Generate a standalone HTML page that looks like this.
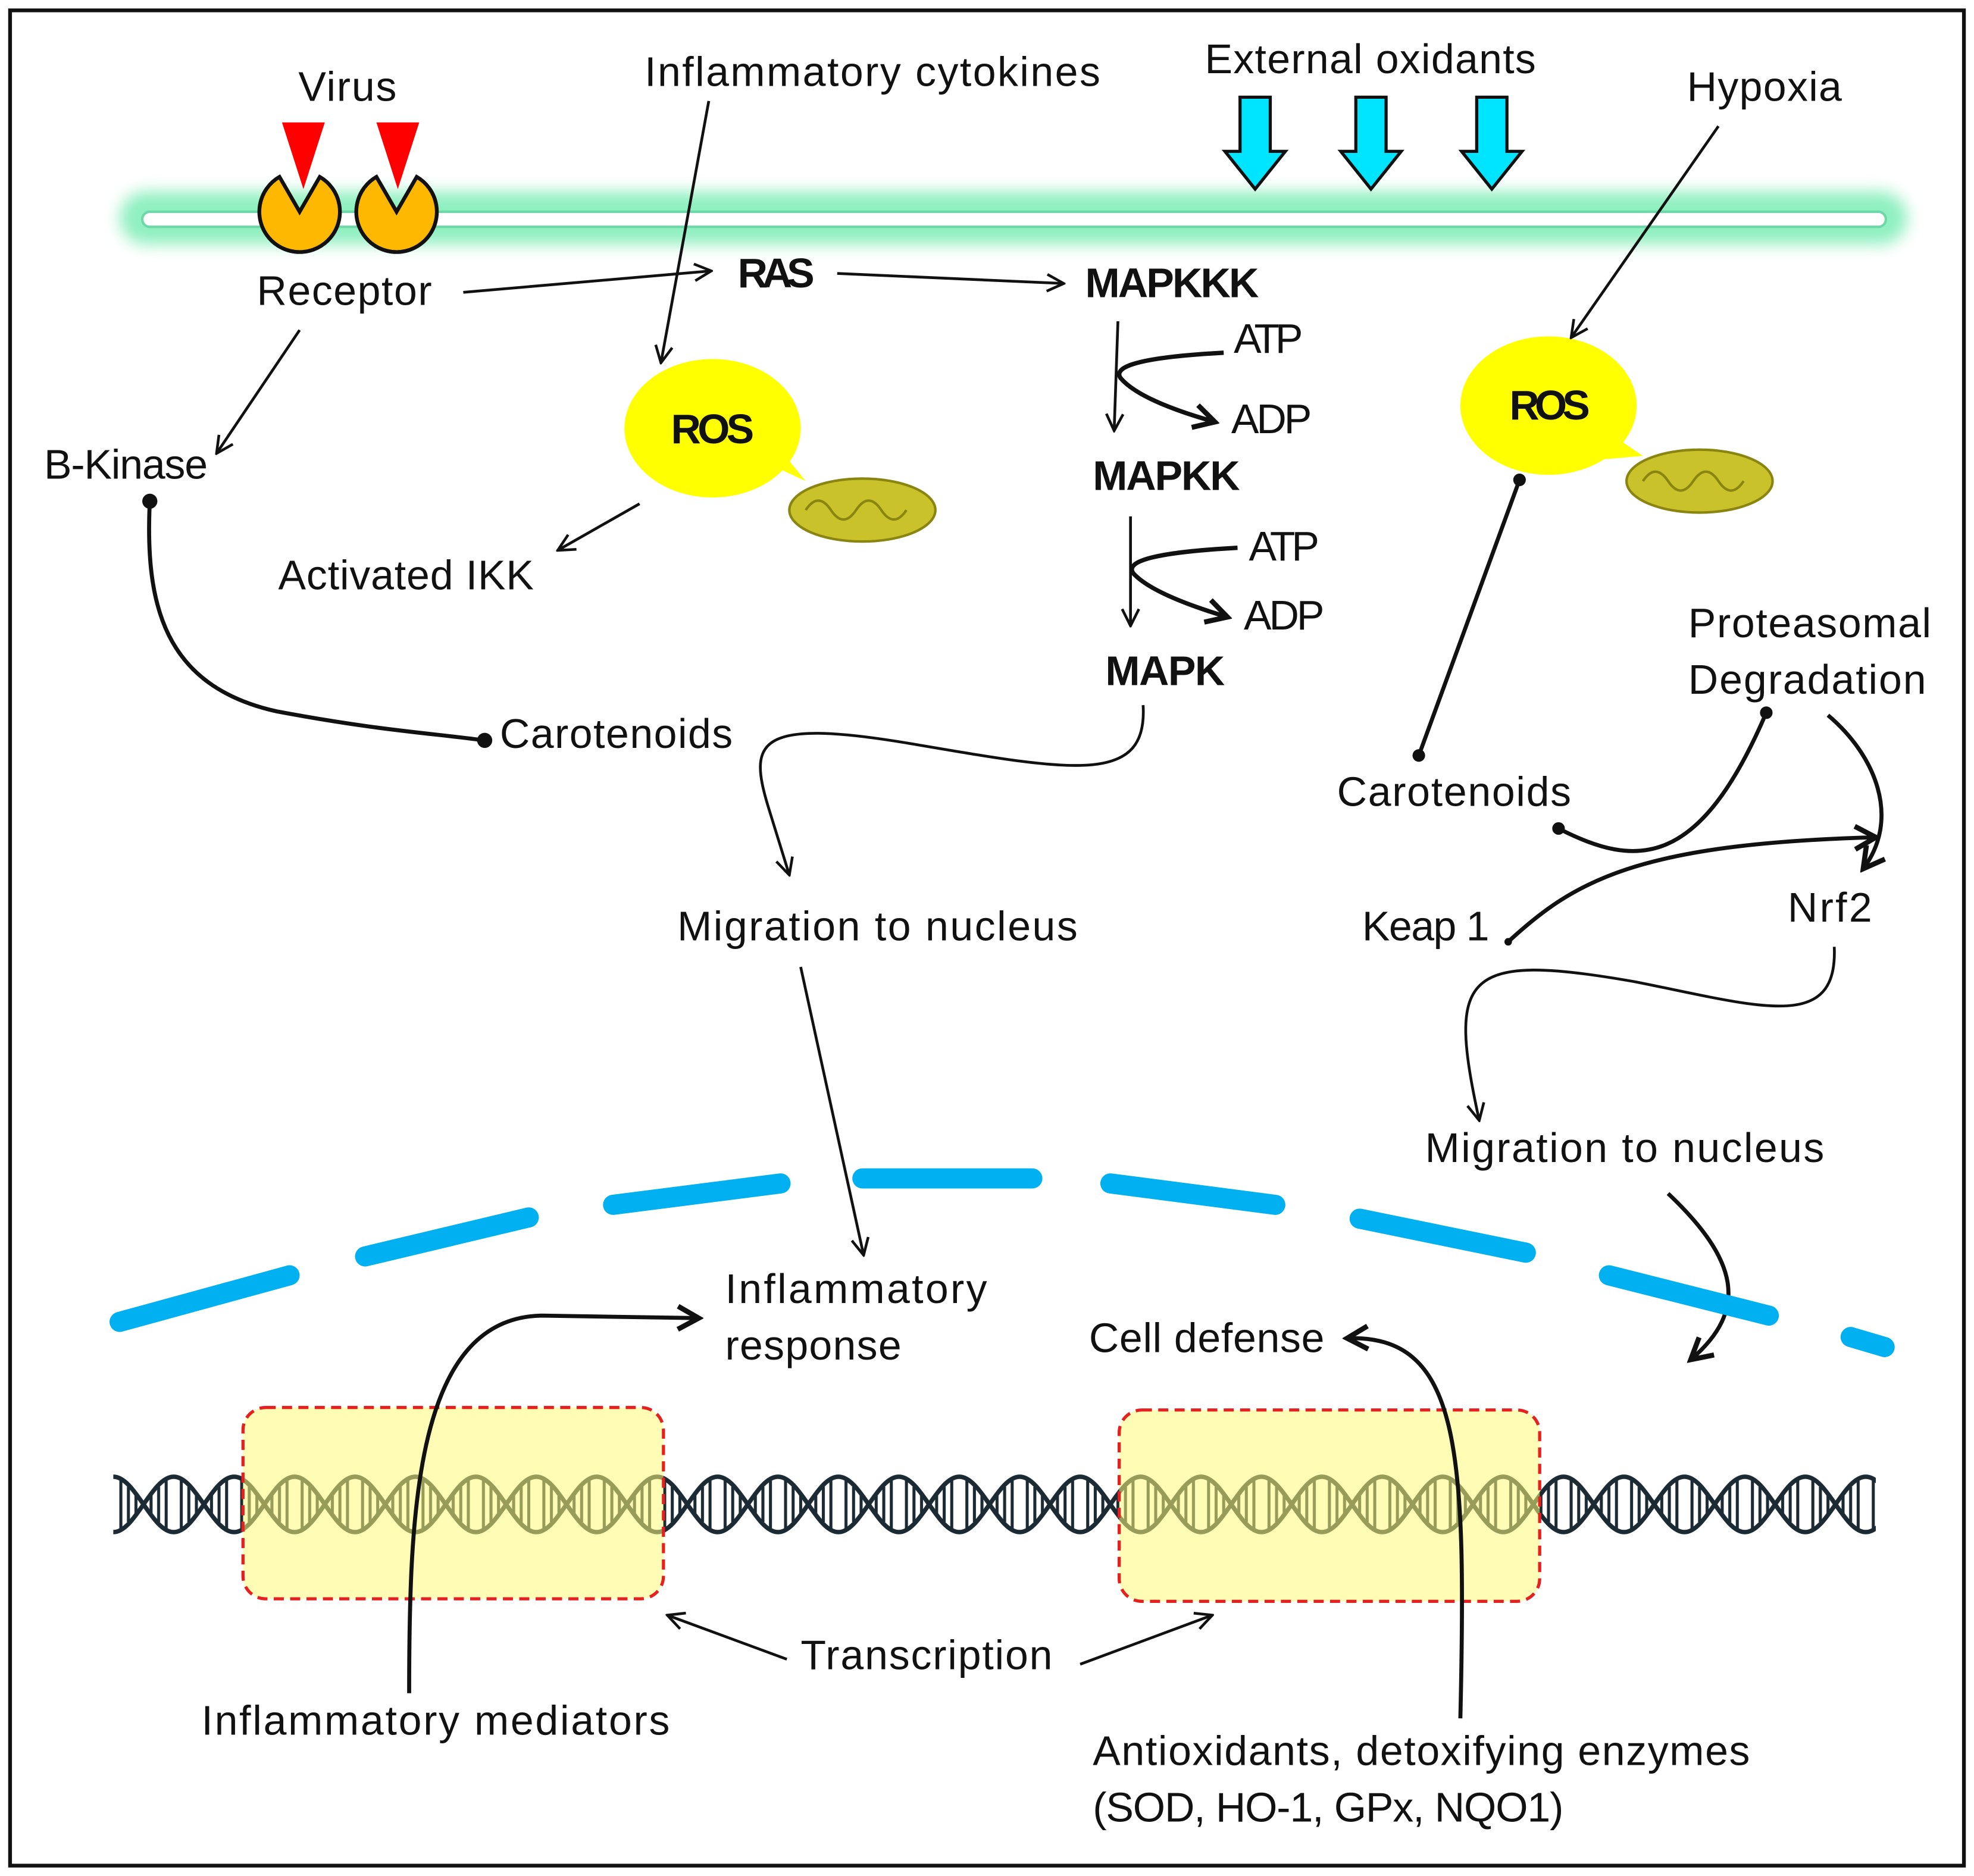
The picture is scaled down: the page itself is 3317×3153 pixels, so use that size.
<!DOCTYPE html>
<html><head><meta charset="utf-8"><style>
html,body{margin:0;padding:0;background:#fff}
svg{display:block}
text{font-family:"Liberation Sans",sans-serif;font-size:33px;fill:#111}
.b{font-weight:bold}
</style></head><body>
<svg width="3317" height="3153" viewBox="0 0 1568 1490" xmlns="http://www.w3.org/2000/svg">
<defs>
<marker id="a" viewBox="0 0 12 12" refX="11" refY="6" markerWidth="16" markerHeight="16" markerUnits="userSpaceOnUse" orient="auto"><path d="M1,1 L11,6 L1,11" fill="none" stroke="#111" stroke-width="1.6"/></marker>
<marker id="A" viewBox="0 0 12 12" refX="10" refY="6" markerWidth="22" markerHeight="22" markerUnits="userSpaceOnUse" orient="auto"><path d="M1,1 L10,6 L1,11" fill="none" stroke="#111" stroke-width="2.2"/></marker>
<filter id="g" x="-5%" y="-100%" width="110%" height="300%"><feGaussianBlur stdDeviation="6"/></filter>
<pattern id="dna" patternUnits="userSpaceOnUse" x="90" y="1169" width="96" height="52">
<g transform="translate(0,26)" fill="none" stroke="#1c2b33" stroke-width="3.5">
<path d="M0,22 C17.5,22 30.5,-22 48,-22 C65.5,-22 78.5,22 96,22"/>
<path d="M0,-22 C17.5,-22 30.5,22 48,22 C65.5,22 78.5,-22 96,-22"/>
<g stroke-width="2.4">
<path d="M6,-19V19M12,-14V14M18,-8V8M30,-8V8M36,-14V14M42,-19V19M54,-19V19M60,-14V14M66,-8V8M78,-8V8M84,-14V14M90,-19V19"/>
</g></g></pattern>
</defs>
<rect width="1568" height="1490" fill="#fff"/>
<rect x="8" y="8" width="1552" height="1474" fill="none" stroke="#111" stroke-width="3"/>

<rect x="95" y="152" width="1420" height="42" rx="21" fill="#8ff0c0" filter="url(#g)"/>
<rect x="113" y="168" width="1385" height="12" rx="6" fill="#fff" stroke="#6fd8a8" stroke-width="2"/>

<path d="M238,168 L222,140.3 A32,32 0 1 0 254,140.3 Z" fill="#ffb800" stroke="#111" stroke-width="3"/>
<path d="M315,168 L299,140.3 A32,32 0 1 0 331,140.3 Z" fill="#ffb800" stroke="#111" stroke-width="3"/>
<path d="M224,97 L258,97 L241,150 Z" fill="#ff0000"/>
<path d="M299,97 L333,97 L316,150 Z" fill="#ff0000"/>

<g fill="#00e5ff" stroke="#111" stroke-width="2.5">
<path d="M985,77 H1009 V120 H1021 L997,150 L973,120 H985 Z"/>
<path d="M1077,77 H1101 V120 H1113 L1089,150 L1065,120 H1077 Z"/>
<path d="M1173,77 H1197 V120 H1209 L1185,150 L1161,120 H1173 Z"/>
</g>

<ellipse cx="566" cy="340" rx="70" ry="55" fill="#ffff00"/>
<path d="M610,368 L640,382 L618,355 Z" fill="#ffff00"/>
<ellipse cx="685" cy="405" rx="58" ry="25" fill="#c9c22a" stroke="#8a8410" stroke-width="2"/>
<path d="M640,405 q10,-15 20,0 q10,15 20,0 q10,-15 20,0 q10,15 20,0" fill="none" stroke="#8a8410" stroke-width="2"/>
<ellipse cx="1230" cy="322" rx="70" ry="55" fill="#ffff00"/>
<path d="M1280,345 L1305,362 L1270,365 Z" fill="#ffff00"/>
<ellipse cx="1350" cy="382" rx="58" ry="25" fill="#c9c22a" stroke="#8a8410" stroke-width="2"/>
<path d="M1305,382 q10,-15 20,0 q10,15 20,0 q10,-15 20,0 q10,15 20,0" fill="none" stroke="#8a8410" stroke-width="2"/>

<g fill="none" stroke="#111" stroke-width="2.2" marker-end="url(#a)">
<path d="M368,232 L565,215"/>
<path d="M665,217 L845,225"/>
<path d="M563,80 L525,288"/>
<path d="M238,262 L172,360"/>
<path d="M508,400 L443,437"/>
<path d="M888,255 L885,342"/>
<path d="M898,410 L898,497"/>
<path d="M908,560 C912,625 850,612 720,590 C600,570 595,590 610,640 L627,695"/>
<path d="M636,768 L686,997"/>
<path d="M1365,100 L1248,268"/>
<path d="M1457,752 C1460,820 1400,800 1300,780 C1160,755 1150,775 1175,890"/>
<path d="M625,1318 L530,1283"/>
<path d="M858,1322 L963,1283"/>
</g>
<g fill="none" stroke="#111" stroke-width="3.5" marker-end="url(#A)">
<path d="M972,280 Q880,285 890,300 Q905,318 965,335"/>
<path d="M983,435 Q890,440 900,455 Q915,472 975,490"/>
</g>
<g fill="none" stroke="#111" stroke-width="3.2">
<path d="M119,398 C115,480 130,545 220,565 C300,580 340,582 385,588"/>
<path d="M1207,381 L1127,600"/>
<path d="M1238,658 C1300,690 1350,690 1403,566"/>
</g>
<g fill="#111">
<circle cx="119" cy="398" r="6"/><circle cx="385" cy="588" r="6"/>
<circle cx="1207" cy="381" r="5"/><circle cx="1127" cy="600" r="5"/>
<circle cx="1238" cy="658" r="5"/><circle cx="1403" cy="566" r="5"/>
<circle cx="1198" cy="748" r="3"/>
</g>
<g fill="none" stroke="#111" stroke-width="3.2" marker-end="url(#A)">
<path d="M1452,568 C1490,600 1510,650 1480,690"/>
<path d="M1198,748 C1250,700 1300,670 1490,665"/>
<path d="M1325,948 C1380,1000 1390,1040 1343,1080"/>
</g>

<g stroke="#00b0f0" stroke-width="16" stroke-linecap="round">
<path d="M95,1050 L230,1013"/><path d="M290,998 L420,967"/><path d="M487,957 L620,940"/>
<path d="M685,936 L820,936"/><path d="M882,940 L1013,957"/><path d="M1080,968 L1212,995"/>
<path d="M1278,1013 L1405,1045"/><path d="M1470,1062 L1497,1070"/>
</g>

<rect x="90" y="1167" width="1400" height="56" fill="url(#dna)"/>
<rect x="193" y="1118" width="334" height="152" rx="18" fill="rgba(255,250,120,0.55)" stroke="#e52020" stroke-width="2.5" stroke-dasharray="8,5"/>
<rect x="889" y="1120" width="334" height="152" rx="18" fill="rgba(255,250,120,0.55)" stroke="#e52020" stroke-width="2.5" stroke-dasharray="8,5"/>

<g fill="none" stroke="#111" stroke-width="3.2" marker-end="url(#A)">
<path d="M325,1345 C325,1200 330,1047 430,1045 L555,1047"/>
<path d="M1160,1365 C1165,1150 1160,1060 1070,1063"/>
</g>

<text x="237" y="80" textLength="78">Virus</text>
<text x="512" y="68" textLength="362">Inflammatory cytokines</text>
<text x="957" y="58" textLength="263">External oxidants</text>
<text x="1340" y="80" textLength="123">Hypoxia</text>
<text x="204" y="242" textLength="139">Receptor</text>
<text x="586" y="228" class="b" textLength="61">RAS</text>
<text x="862" y="236" class="b" textLength="138">MAPKKK</text>
<text x="980" y="280" textLength="55">ATP</text>
<text x="978" y="344" textLength="64">ADP</text>
<text x="868" y="389" class="b" textLength="117">MAPKK</text>
<text x="992" y="445" textLength="56">ATP</text>
<text x="988" y="500" textLength="64">ADP</text>
<text x="878" y="544" class="b" textLength="95">MAPK</text>
<text x="533" y="352" class="b" textLength="66">ROS</text>
<text x="1199" y="333" class="b" textLength="64">ROS</text>
<text x="35" y="380" textLength="130">B-Kinase</text>
<text x="221" y="468" textLength="203">Activated IKK</text>
<text x="397" y="594" textLength="185">Carotenoids</text>
<text x="538" y="747" textLength="318">Migration to nucleus</text>
<text x="1341" y="506" textLength="193">Proteasomal</text>
<text x="1341" y="551" textLength="189">Degradation</text>
<text x="1062" y="640" textLength="186">Carotenoids</text>
<text x="1082" y="747" textLength="101">Keap 1</text>
<text x="1420" y="732" textLength="67">Nrf2</text>
<text x="1132" y="923" textLength="317">Migration to nucleus</text>
<text x="576" y="1035" textLength="208">Inflammatory</text>
<text x="576" y="1080" textLength="140">response</text>
<text x="865" y="1074" textLength="187">Cell defense</text>
<text x="636" y="1326" textLength="200">Transcription</text>
<text x="160" y="1378" textLength="372">Inflammatory mediators</text>
<text x="868" y="1402" textLength="522">Antioxidants, detoxifying enzymes</text>
<text x="868" y="1447" textLength="374">(SOD, HO-1, GPx, NQO1)</text>
</svg>
</body></html>
